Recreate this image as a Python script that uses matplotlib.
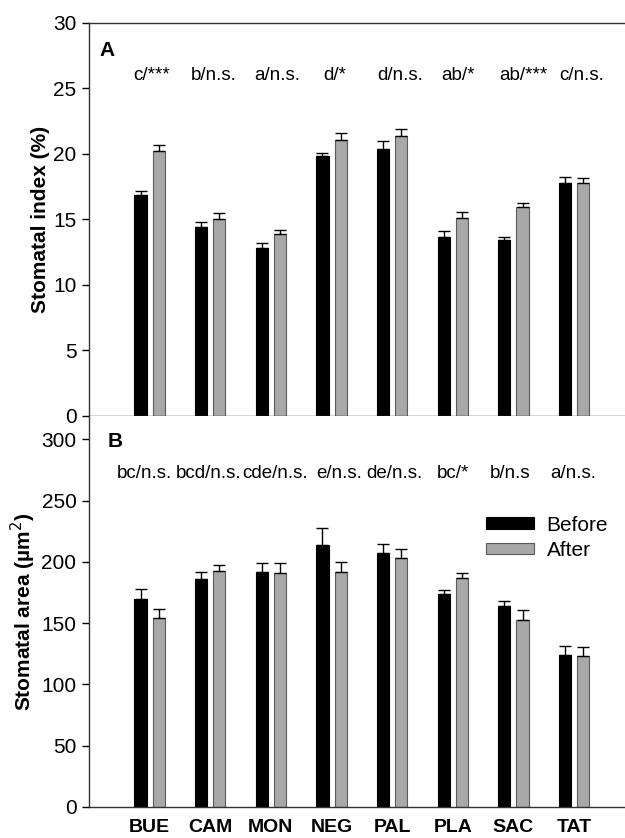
import matplotlib
matplotlib.use("Agg")
import matplotlib.pyplot as plt
import numpy as np

plt.rcParams['font.family'] = ['Liberation Sans', 'DejaVu Sans']

sites = ["BUE", "CAM", "MON", "NEG", "PAL", "PLA", "SAC", "TAT"]

si_before = [16.9, 14.45, 12.8, 19.85, 20.35, 13.65, 13.4, 17.75]
si_before_err = [0.3, 0.38, 0.38, 0.25, 0.65, 0.48, 0.3, 0.47]
si_after = [20.25, 15.05, 13.9, 21.1, 21.35, 15.15, 15.95, 17.8]
si_after_err = [0.4, 0.48, 0.33, 0.5, 0.56, 0.41, 0.33, 0.4]
si_labels = ["c/***", "b/n.s.", "a/n.s.", "d/*", "d/n.s.", "ab/*", "ab/***", "c/n.s."]

sa_before = [170.0, 186.0, 192.0, 213.5, 207.5, 173.5, 164.0, 124.0]
sa_before_err = [7.8, 5.7, 7.3, 14.5, 7.3, 3.5, 4.3, 7.6]
sa_after = [154.0, 192.5, 190.5, 191.5, 203.0, 187.0, 152.5, 123.0]
sa_after_err = [7.6, 5.2, 8.4, 8.7, 7.6, 3.6, 8.4, 7.8]
sa_labels = ["bc/n.s.", "bcd/n.s.", "cde/n.s.", "e/n.s.", "de/n.s.", "bc/*", "b/n.s", "a/n.s."]

# horizontal nudges of the annotation texts (in group units)
nudge_A = [0.03, 0.05, 0.10, 0.06, 0.13, 0.09, 0.16, 0.13]
nudge_B = [-0.08, -0.02, 0.07, 0.12, 0.03, 0.0, -0.05, -0.02]

fig = plt.figure(figsize=(6.25, 8.38), dpi=100)
axA = fig.add_axes([0.1424, 0.5036, 0.8576, 0.469])
axB = fig.add_axes([0.1424, 0.037, 0.8576, 0.4666])

x = np.arange(1, len(sites) + 1)
off = 0.15
w = 0.2
grey = "#a8a8a8"
grey_edge = "#5a5a5a"

def draw(ax, bef, bef_err, aft, aft_err, ymax):
    eb_kw = dict(ecolor="black", elinewidth=1.0, capsize=4, capthick=1.0)
    ax.bar(x - off, bef, w, color="black", edgecolor="black", linewidth=0.8,
           yerr=[np.zeros(len(bef)), bef_err], error_kw=eb_kw, label="Before", zorder=2)
    ax.bar(x + off, aft, w, color=grey, edgecolor=grey_edge, linewidth=0.8,
           yerr=[np.zeros(len(aft)), aft_err], error_kw=eb_kw, label="After", zorder=2)
    ax.set_xlim(0, 8.84)
    ax.set_ylim(0, ymax)
    ax.spines['right'].set_visible(False)
    for s in ['left', 'bottom', 'top']:
        ax.spines[s].set_color('#333333')
        ax.spines[s].set_linewidth(1.0)
    ax.tick_params(axis='y', direction='out', length=5, width=1, labelsize=15, pad=4)
    ax.tick_params(axis='x', length=0)

draw(axA, si_before, si_before_err, si_after, si_after_err, 30)
draw(axB, sa_before, sa_before_err, sa_after, sa_after_err, 319)

axA.set_yticks([0, 5, 10, 15, 20, 25, 30])
axA.set_xticks([])
axA.set_ylabel("Stomatal index (%)", fontsize=15, fontweight='bold', labelpad=2.5)
for xi, lab, nd in zip(x, si_labels, nudge_A):
    axA.text(xi + nd, 26.0, lab, ha='center', va='center', fontsize=13.5)
axA.text(0.02, 0.93, "A", transform=axA.transAxes, fontsize=15, fontweight='bold',
         ha='left', va='center')

axB.spines['top'].set_visible(False)
axB.set_yticks([0, 50, 100, 150, 200, 250, 300])
axB.set_xticks(x)
axB.set_xticklabels(sites, fontsize=14, fontweight='bold')
axB.tick_params(axis='x', pad=9)
axB.set_ylabel("Stomatal area (\u00b5m$^2$)", fontsize=15, fontweight='bold', labelpad=2.5)
for xi, lab, nd in zip(x, sa_labels, nudge_B):
    axB.text(xi + nd, 272, lab, ha='center', va='center', fontsize=13.5)
axB.text(0.034, 0.935, "B", transform=axB.transAxes, fontsize=15, fontweight='bold',
         ha='left', va='center')

leg = axB.legend(loc='upper left', bbox_to_anchor=(0.741, 0.745), frameon=False,
                 fontsize=15, handlelength=2.3, handleheight=0.5,
                 handletextpad=0.6, labelspacing=0.3, borderpad=0, borderaxespad=0)

fig.savefig("out.png", dpi=100)
